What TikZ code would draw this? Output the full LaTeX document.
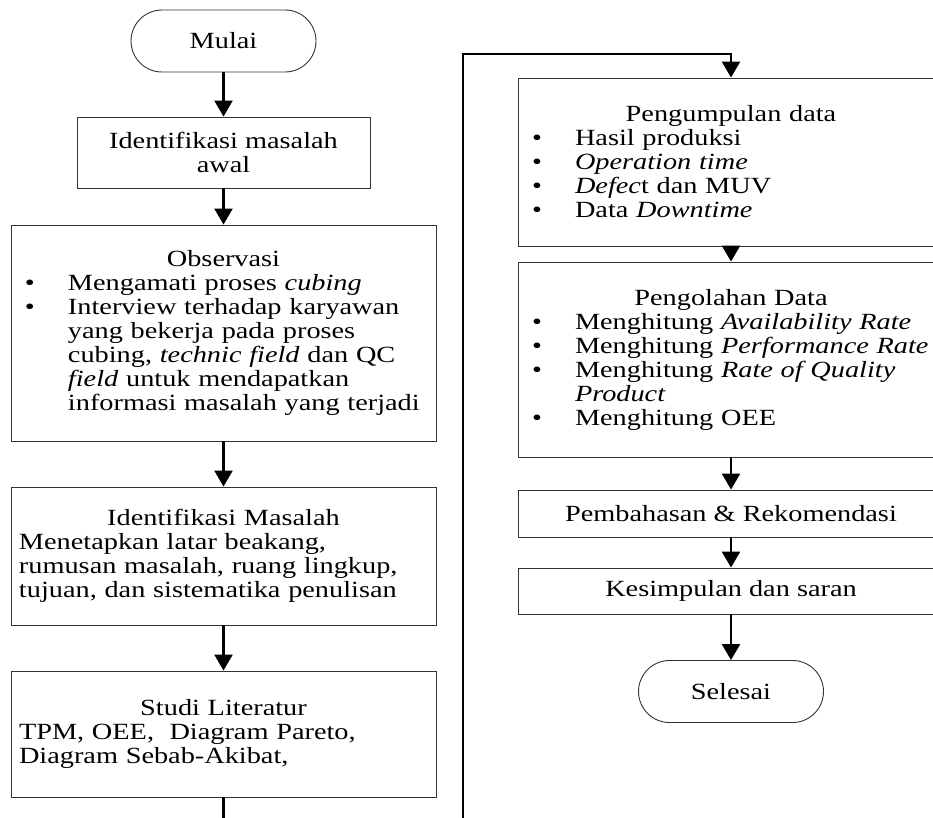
\documentclass[tikz,border=0pt]{standalone}
\usepackage{fontspec}
\setmainfont{Liberation Serif}[FakeStretch=1.22]
\usetikzlibrary{arrows.meta}
\newcommand{\bpt}{\makebox[49pt][l]{\hspace{6pt}\textbullet}}
\newcommand{\bind}{\hspace*{49pt}}

\begin{document}
\begin{tikzpicture}[x=1pt,y=-1pt]
\tikzstyle{proc}=[draw=black!80,line width=0.9pt,shape=rectangle,inner xsep=8pt,inner ysep=0pt,font=\fontsize{23.2}{24}\selectfont]
\tikzstyle{term}=[proc,rounded corners=31pt,minimum width=185pt,minimum height=62pt]
\tikzstyle{flow}=[line width=2.4pt,-{Triangle[width=18pt,length=16pt]}]
\useasboundingbox (0,0) rectangle (933,817);
\clip (0,0) rectangle (933,817);

\path (223.5,41) node[term](mulai){Mulai};
\path (223.5,152.5) node[proc,minimum width=293pt,minimum height=71pt,align=center](awal){Identifikasi masalah\\awal};
\path (223.5,333) node[proc,text width=409pt,minimum height=216pt,align=left](obs){{\centering Observasi\par}\bpt Mengamati proses \textit{cubing}\\\bpt Interview terhadap karyawan\\\bind yang bekerja pada proses\\\bind cubing, \textit{technic field} dan QC\\\bind \textit{field} untuk mendapatkan\\\bind informasi masalah yang terjadi};
\path (223.5,556) node[proc,text width=409pt,minimum height=138pt,align=left](idm){{\centering Identifikasi Masalah\par}Menetapkan latar beakang,\\rumusan masalah, ruang lingkup,\\tujuan, dan sistematika penulisan};
\path (223.5,734) node[proc,text width=409pt,minimum height=126pt,align=left](studi){{\centering Studi Literatur\par}TPM, OEE, \ Diagram Pareto,\\Diagram Sebab-Akibat,};

\path (731,162) node[proc,text width=410pt,minimum height=168pt,align=left](pgm){{\centering Pengumpulan data\par}\bpt Hasil produksi\\\bpt \textit{Operation time}\\\bpt \textit{Defec}t dan MUV\\\bpt Data \textit{Downtime}};
\path (731,359.5) node[proc,text width=410pt,minimum height=195pt,align=left](pgl){{\centering Pengolahan Data\par}\bpt Menghitung \textit{Availability Rate}\\\bpt Menghitung \textit{Performance Rate}\\\bpt Menghitung \textit{Rate of Quality}\\\bind \textit{Product}\\\bpt Menghitung OEE};
\path (731,513.5) node[proc,minimum width=426pt,minimum height=47pt](bhs){Pembahasan \& Rekomendasi};
\path (731,591) node[proc,minimum width=426pt,minimum height=46pt](kes){Kesimpulan dan saran};
\path (731,691.5) node[term](sls){Selesai};

\coordinate (c1) at (223.5,840);
\coordinate (c2) at (463,840);
\coordinate (c3) at (463,54);
\coordinate (c4) at (731,54);

\draw[flow] (mulai.south) -- (awal.north);
\draw[flow] (awal.south) -- (obs.north);
\draw[flow] (obs.south) -- (idm.north);
\draw[flow] (idm.south) -- (studi.north);
\draw[flow] (studi.south) -- (c1) -- (c2) -- (c3) -- (c4) -- (pgm.north);
\draw[flow] (pgm.south) -- (pgl.north);
\draw[flow] (pgl.south) -- (bhs.north);
\draw[flow] (bhs.south) -- (kes.north);
\draw[flow] (kes.south) -- (sls.north);
\end{tikzpicture}
\end{document}
